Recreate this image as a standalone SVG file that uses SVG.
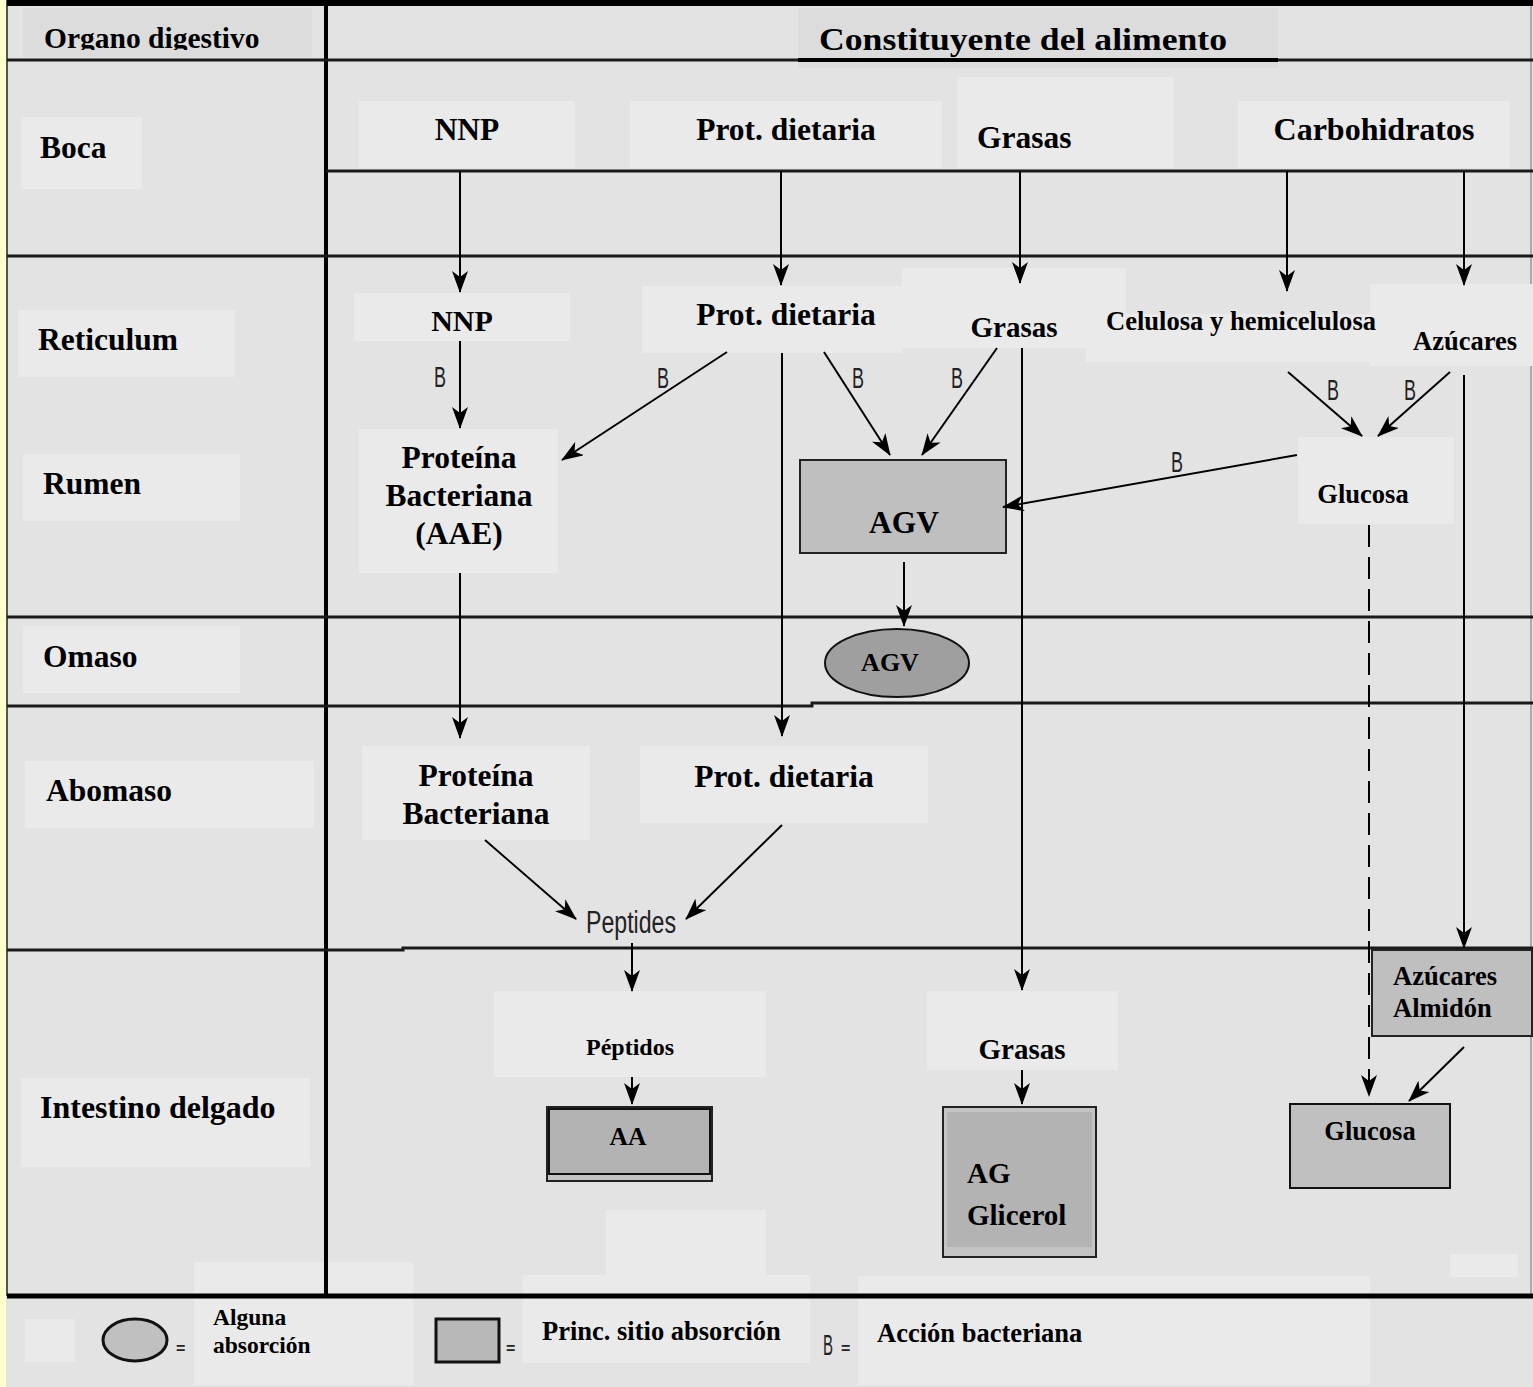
<svg xmlns="http://www.w3.org/2000/svg" width="1533" height="1387" viewBox="0 0 1533 1387">
<defs>
<style>
.t{font-family:"Liberation Serif","Times New Roman",serif;font-weight:bold;fill:#000}
.lb{fill:#eaeaea}
.sep{stroke:#1a1a1a;stroke-width:3;fill:none}
.ar{stroke:#000;stroke-width:2;fill:none;marker-end:url(#ah)}
.b{font-family:"Liberation Sans","DejaVu Sans",sans-serif;font-size:30px;fill:#222}
</style>
<marker id="ah" viewBox="0 0 22 16" refX="21" refY="8" markerWidth="22" markerHeight="16" markerUnits="userSpaceOnUse" orient="auto">
<path d="M0,0 L22,8 L0,16 L6,8 z" fill="#000"/>
</marker>
<clipPath id="hclip"><rect x="0" y="0" width="330" height="50"/></clipPath>
</defs>
<rect x="0" y="0" width="1533" height="1387" fill="#e3e3e3"/>
<rect x="0" y="0" width="6" height="1387" fill="#ffffcc"/>

<g id="frame">
<line x1="7" y1="0" x2="7" y2="1296" stroke="#555" stroke-width="2"/>
<line x1="1531" y1="0" x2="1531" y2="1296" stroke="#aaa" stroke-width="2"/>
<line x1="7" y1="3" x2="1533" y2="3" stroke="#000" stroke-width="6"/>
<line x1="326" y1="0" x2="326" y2="1294" stroke="#000" stroke-width="4"/>
<line class="sep" x1="7" y1="60" x2="1533" y2="60"/>
<line class="sep" x1="326" y1="171" x2="1533" y2="171"/>
<line class="sep" x1="7" y1="256" x2="1533" y2="256"/>
<line class="sep" x1="7" y1="617" x2="1533" y2="617"/>
<path class="sep" d="M7,706 H812 V703 H1533"/>
<path class="sep" d="M7,950 H403 V948 H1533"/>
</g>

<g id="header">
<rect x="23" y="8" width="289" height="49" fill="#dcdcdc"/>
<text class="t" x="44" y="48" font-size="29.5" clip-path="url(#hclip)">Organo digestivo</text>
<rect x="798" y="8" width="480" height="60" fill="#dcdcdc"/>
<line x1="798" y1="60" x2="1278" y2="60" stroke="#000" stroke-width="4"/>
<text class="t" x="819" y="50" font-size="31" textLength="408" lengthAdjust="spacingAndGlyphs">Constituyente del alimento</text>
</g>

<g id="organs">
<rect class="lb" x="21" y="117" width="121" height="72"/>
<text class="t" x="40" y="158" font-size="31.5">Boca</text>
<rect class="lb" x="18" y="310" width="217" height="67"/>
<text class="t" x="38" y="350" font-size="31.5">Reticulum</text>
<rect class="lb" x="23" y="454" width="217" height="67"/>
<text class="t" x="43" y="494" font-size="31.5">Rumen</text>
<rect class="lb" x="23" y="626" width="217" height="67"/>
<text class="t" x="43" y="667" font-size="31.5">Omaso</text>
<rect class="lb" x="25" y="761" width="289" height="67"/>
<text class="t" x="46" y="801" font-size="31.5">Abomaso</text>
<rect class="lb" x="21" y="1078" width="289" height="89"/>
<text class="t" x="40" y="1118" font-size="32">Intestino delgado</text>
</g>

<g id="boca-nodes">
<g id="boca-nnp"><rect class="lb" x="359" y="101" width="216" height="67"/><text class="t" x="467" y="140" font-size="31.5" text-anchor="middle">NNP</text></g>
<g id="boca-prot"><rect class="lb" x="630" y="101" width="312" height="67"/><text class="t" x="786" y="140" font-size="31.5" text-anchor="middle">Prot. dietaria</text></g>
<g id="boca-grasas"><rect class="lb" x="957" y="77" width="216" height="91"/><text class="t" x="977" y="148" font-size="31.5">Grasas</text></g>
<g id="boca-carbo"><rect class="lb" x="1238" y="101" width="271" height="67"/><text class="t" x="1374" y="140" font-size="32" text-anchor="middle">Carbohidratos</text></g>
</g>

<g id="reticulum-nodes">
<g id="ret-nnp"><rect class="lb" x="354" y="293" width="216" height="48"/><text class="t" x="462" y="331" font-size="30" text-anchor="middle">NNP</text></g>
<g id="ret-prot"><rect class="lb" x="642" y="286" width="260" height="67"/><text class="t" x="786" y="325" font-size="31.5" text-anchor="middle">Prot. dietaria</text></g>
<g id="ret-grasas"><rect class="lb" x="902" y="268" width="224" height="80"/><text class="t" x="1014" y="337" font-size="29" text-anchor="middle">Grasas</text></g>
<g id="ret-azucares"><rect class="lb" x="1370" y="284" width="163" height="82"/><text class="t" x="1413" y="350" font-size="26.5">Azúcares</text></g>
<g id="ret-celulosa"><rect class="lb" x="1086" y="314" width="284" height="48"/><text class="t" x="1106" y="330" font-size="26.5" textLength="270" lengthAdjust="spacingAndGlyphs">Celulosa y hemicelulosa</text></g>
</g>

<g id="rumen-nodes">
<g id="rum-protbact"><rect class="lb" x="359" y="429" width="199" height="144"/>
<text class="t" x="459" y="468" font-size="31.5" text-anchor="middle">Proteína</text>
<text class="t" x="459" y="506" font-size="31.5" text-anchor="middle">Bacteriana</text>
<text class="t" x="459" y="544" font-size="31.5" text-anchor="middle">(AAE)</text></g>
<g id="rum-agv"><rect x="800" y="460" width="206" height="93" fill="#bfbfbf" stroke="#222" stroke-width="2"/><text class="t" x="904" y="533" font-size="31.5" text-anchor="middle">AGV</text></g>
<g id="rum-glucosa"><rect class="lb" x="1298" y="437" width="156" height="87"/><text class="t" x="1363" y="503" font-size="26.5" text-anchor="middle">Glucosa</text></g>
</g>

<g id="omaso-nodes">
<g id="om-agv"><ellipse cx="897" cy="663" rx="72" ry="34" fill="#9f9f9f" stroke="#111" stroke-width="2"/><text class="t" x="890" y="671" font-size="26" text-anchor="middle">AGV</text></g>
</g>

<g id="abomaso-nodes">
<g id="ab-protbact"><rect class="lb" x="362" y="746" width="228" height="94"/>
<text class="t" x="476" y="786" font-size="31.5" text-anchor="middle">Proteína</text>
<text class="t" x="476" y="824" font-size="31.5" text-anchor="middle">Bacteriana</text></g>
<g id="ab-prot"><rect class="lb" x="640" y="746" width="288" height="77"/><text class="t" x="784" y="787" font-size="31.5" text-anchor="middle">Prot. dietaria</text></g>
<g id="ab-peptides"><text x="586" y="933" font-family="Liberation Sans,DejaVu Sans,sans-serif" font-size="31" fill="#222" textLength="90" lengthAdjust="spacingAndGlyphs">Peptides</text></g>
</g>

<g id="intestino-nodes">
<rect class="lb" x="606" y="1210" width="160" height="80"/>
<rect class="lb" x="1450" y="1254" width="68" height="23"/>
<g id="in-peptidos"><rect class="lb" x="494" y="991" width="272" height="86"/><text class="t" x="630" y="1055" font-size="24" text-anchor="middle">Péptidos</text></g>
<g id="in-aa"><rect x="547" y="1107" width="165" height="74" fill="#c4c4c4" stroke="#222" stroke-width="2"/><rect x="549" y="1109" width="161" height="65" fill="#b3b3b3" stroke="#111" stroke-width="2"/><text class="t" x="628" y="1145" font-size="25.5" text-anchor="middle">AA</text></g>
<g id="in-grasas"><rect class="lb" x="927" y="991" width="191" height="79"/><text class="t" x="1022" y="1059" font-size="29" text-anchor="middle">Grasas</text></g>
<g id="in-ag"><rect x="943" y="1107" width="153" height="150" fill="#c4c4c4" stroke="#222" stroke-width="2"/><rect x="947" y="1112" width="145" height="135" fill="#b3b3b3"/>
<text class="t" x="967" y="1183" font-size="29">AG</text><text class="t" x="967" y="1225" font-size="29">Glicerol</text></g>
<g id="in-azucares"><rect x="1372" y="950" width="160" height="86" fill="#bfbfbf" stroke="#222" stroke-width="2"/>
<text class="t" x="1393" y="985" font-size="26.5">Azúcares</text><text class="t" x="1393" y="1017" font-size="26.5">Almidón</text></g>
<g id="in-glucosa"><rect x="1290" y="1104" width="160" height="84" fill="#c0c0c0" stroke="#111" stroke-width="2"/><text class="t" x="1370" y="1140" font-size="26.5" text-anchor="middle">Glucosa</text></g>
</g>

<g id="connectors">
<line class="ar" x1="460" y1="171" x2="460" y2="292"/>
<line class="ar" x1="781" y1="171" x2="781" y2="285"/>
<line class="ar" x1="1020" y1="171" x2="1020" y2="283"/>
<line class="ar" x1="1287" y1="171" x2="1287" y2="291"/>
<line class="ar" x1="1464" y1="171" x2="1464" y2="285"/>
<line class="ar" x1="460" y1="341" x2="460" y2="428"/>
<line class="ar" x1="727" y1="352" x2="562" y2="460"/>
<line class="ar" x1="824" y1="352" x2="890" y2="455"/>
<line class="ar" x1="997" y1="348" x2="922" y2="455"/>
<line class="ar" x1="782" y1="353" x2="782" y2="736"/>
<line class="ar" x1="1022" y1="348" x2="1022" y2="990"/>
<line class="ar" x1="1288" y1="372" x2="1362" y2="436"/>
<line class="ar" x1="1450" y1="372" x2="1378" y2="436"/>
<line class="ar" x1="1464" y1="375" x2="1464" y2="948"/>
<line class="ar" x1="1297" y1="455" x2="1003" y2="507"/>
<line class="ar" x1="1369" y1="525" x2="1369" y2="1096" stroke-dasharray="22,10"/>
<line class="ar" x1="904" y1="562" x2="904" y2="626"/>
<line class="ar" x1="460" y1="573" x2="460" y2="738"/>
<line class="ar" x1="485" y1="840" x2="576" y2="919"/>
<line class="ar" x1="782" y1="825" x2="686" y2="919"/>
<line class="ar" x1="632" y1="943" x2="632" y2="991"/>
<line class="ar" x1="632" y1="1077" x2="632" y2="1104"/>
<line class="ar" x1="1022" y1="1070" x2="1022" y2="1104"/>
<line class="ar" x1="1464" y1="1047" x2="1409" y2="1101"/>
<text class="b" x="434" y="387" textLength="12" lengthAdjust="spacingAndGlyphs">B</text>
<text class="b" x="657" y="388" textLength="12" lengthAdjust="spacingAndGlyphs">B</text>
<text class="b" x="852" y="388" textLength="12" lengthAdjust="spacingAndGlyphs">B</text>
<text class="b" x="951" y="388" textLength="12" lengthAdjust="spacingAndGlyphs">B</text>
<text class="b" x="1327" y="400" textLength="12" lengthAdjust="spacingAndGlyphs">B</text>
<text class="b" x="1404" y="400" textLength="12" lengthAdjust="spacingAndGlyphs">B</text>
<text class="b" x="1171" y="472" textLength="12" lengthAdjust="spacingAndGlyphs">B</text>
</g>

<g id="legend">
<rect class="lb" x="194" y="1262" width="219" height="123"/>
<rect class="lb" x="523" y="1275" width="287" height="88"/>
<rect class="lb" x="858" y="1276" width="512" height="109"/>
<line x1="7" y1="1296" x2="1533" y2="1296" stroke="#000" stroke-width="5"/>
<line x1="326" y1="1262" x2="326" y2="1294" stroke="#000" stroke-width="4"/>
<rect class="lb" x="25" y="1319" width="50" height="43"/>
<ellipse cx="135" cy="1340" rx="32" ry="21" fill="#c0c0c0" stroke="#111" stroke-width="3"/>
<text x="176" y="1354" font-family="Liberation Sans,sans-serif" font-size="16" font-weight="bold" fill="#222">=</text>
<text class="t" x="213" y="1325" font-size="23.5">Alguna</text>
<text class="t" x="213" y="1353" font-size="23.5">absorción</text>
<rect x="436" y="1319" width="63" height="43" fill="#b8b8b8" stroke="#111" stroke-width="3"/>
<text x="506" y="1354" font-family="Liberation Sans,sans-serif" font-size="16" font-weight="bold" fill="#222">=</text>
<text class="t" x="542" y="1340" font-size="26.5">Princ. sitio absorción</text>
<text class="b" x="823" y="1355" font-size="26" textLength="10" lengthAdjust="spacingAndGlyphs">B</text>
<text x="841" y="1354" font-family="Liberation Sans,sans-serif" font-size="16" font-weight="bold" fill="#222">=</text>
<text class="t" x="877" y="1342" font-size="26.5">Acción bacteriana</text>
</g>
</svg>
